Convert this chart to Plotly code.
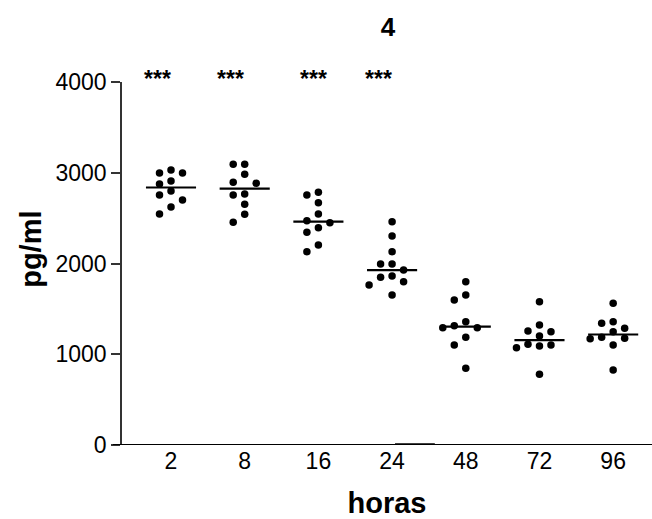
import numpy as np
import plotly.graph_objects as go

categories = ["2", "8", "16", "24", "48", "72", "96"]

h2 = [3030, 2997, 2997, 2909, 2876, 2799, 2755, 2700, 2623, 2545]
h8 = [3093, 3093, 2983, 2895, 2884, 2766, 2755, 2652, 2542, 2454]
h16 = [2785, 2755, 2670, 2545, 2472, 2450, 2395, 2344, 2204, 2130]
h24 = [2461, 2303, 2130, 1994, 1994, 1928, 1862, 1848, 1800, 1763, 1653]
h48 = [1800, 1653, 1598, 1359, 1315, 1293, 1293, 1186, 1102, 845]
h72 = [1579, 1322, 1256, 1249, 1201, 1110, 1102, 1091, 1072, 779]
h96 = [1561, 1359, 1341, 1286, 1249, 1186, 1176, 1170, 1102, 826]
series = [h2, h8, h16, h24, h48, h72, h96]

significance = ["***", "***", "***", "***", "", "", ""]
title_text = "4"
x_title = "horas"
y_title = "pg/ml"
y_ticks = [0, 1000, 2000, 3000, 4000]

FONT = "Liberation Sans, Arial, sans-serif"

# pixel scale helpers for a simple beeswarm layout
PX_PER_X = 73.7
PX_PER_Y = 0.09075
DOT = 9.0
STEP = 11.5  # px between swarm columns
STAR_SHIFT = [-14, -14, -5, -14, 0, 0, 0]


def swarm_offsets(vals):
    order = np.argsort(vals)[::-1]
    placed = []
    offs = [0.0] * len(vals)
    for idx in order:
        v = vals[idx]
        for k in [0, -1, 1, -2, 2, -3, 3]:
            dx = k * STEP
            ok = True
            for (px, pv) in placed:
                dy = (v - pv) * PX_PER_Y
                if (dx - px) ** 2 + dy ** 2 < DOT ** 2:
                    ok = False
                    break
            if ok:
                placed.append((dx, v))
                offs[idx] = dx / PX_PER_X
                break
    return offs


fig = go.Figure()

for i, vals in enumerate(series):
    offs = swarm_offsets(vals)
    fig.add_trace(go.Scatter(
        x=[i + o for o in offs], y=vals, mode="markers",
        marker=dict(color="black", size=7.5, line=dict(width=0)),
        showlegend=False, hoverinfo="y", cliponaxis=False))
    med = float(np.median(vals))
    fig.add_trace(go.Scatter(
        x=[i - 0.34, i + 0.34], y=[med, med], mode="lines",
        line=dict(color="black", width=2.2),
        showlegend=False, hoverinfo="skip"))

annotations = []
for i, s in enumerate(significance):
    if s:
        annotations.append(dict(
            x=i, y=4000, xref="x", yref="y", text="<b>" + s + "</b>",
            showarrow=False, xshift=STAR_SHIFT[i], yshift=3, yanchor="middle",
            font=dict(family=FONT, size=23, color="black")))

annotations.append(dict(
    x=-0.172, y=0.54, xref="paper", yref="paper", text="<b>" + y_title + "</b>",
    textangle=-90, showarrow=False, xanchor="center", yanchor="middle",
    font=dict(family=FONT, size=29, color="black")))

fig.update_layout(
    width=652, height=519,
    margin=dict(l=122, r=0, t=82, b=74),
    paper_bgcolor="white", plot_bgcolor="white",
    title=dict(text="<b>" + title_text + "</b>", x=0.502, xref="paper",
               y=1 - 27 / 519, yanchor="middle", xanchor="center",
               font=dict(family=FONT, size=26, color="black")),
    annotations=annotations,
    xaxis=dict(
        range=[-0.665, 6.527], tickvals=list(range(len(categories))),
        ticktext=categories, ticks="", showgrid=False, zeroline=False,
        showline=False, automargin=False,
        tickfont=dict(family=FONT, size=23, color="black"),
        title=dict(text="<b>" + x_title + "</b>", standoff=23,
                   font=dict(family=FONT, size=29, color="black"))),
    yaxis=dict(
        range=[0, 4000], tickvals=y_ticks, showgrid=False, zeroline=False,
        showline=True, linecolor="#333", linewidth=1.5, automargin=False,
        ticks="outside", ticklen=9, tickwidth=1.5, tickcolor="#333",
        tickfont=dict(family=FONT, size=23, color="black")),
    shapes=[
        dict(type="line", xref="paper", yref="y", x0=-0.017, x1=1, y0=0, y1=0,
             line=dict(color="black", width=2)),
        dict(type="line", xref="x", yref="y", x0=3.04, x1=3.58, y0=0, y1=0,
             line=dict(color="black", width=3.5)),
    ],
)

fig.write_html("out.html", config={"displayModeBar": False},
               post_script="document.body.style.margin='0px';")
